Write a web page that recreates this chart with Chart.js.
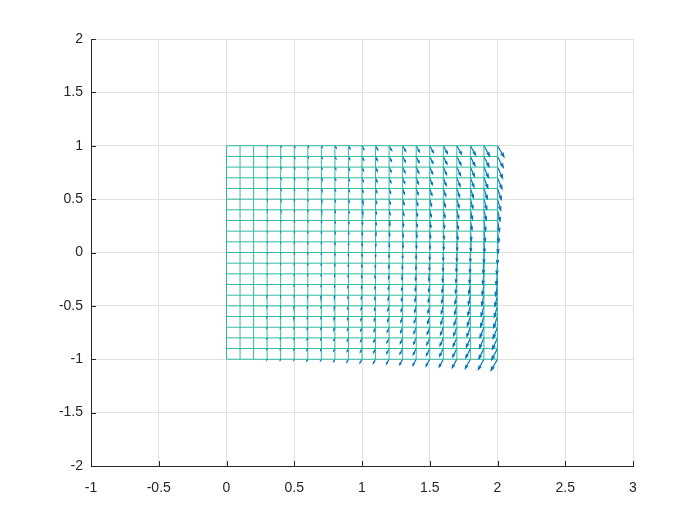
<!DOCTYPE html>
<html>
<head>
<meta charset="utf-8">
<script src="https://cdn.jsdelivr.net/npm/chart.js@4/dist/chart.umd.min.js"></script>
<style>
  html, body { margin: 0; padding: 0; background: #fff; }
  #wrap { width: 700px; height: 525px; }
</style>
</head>
<body>
<div id="wrap"><canvas id="chart_0"></canvas></div>
<script>
// mesh node positions
var meshX = [0, 0.1, 0.2, 0.3, 0.4, 0.5, 0.6, 0.7, 0.8, 0.9, 1, 1.1, 1.2, 1.3, 1.4, 1.5, 1.6, 1.7, 1.8, 1.9, 2];
var meshY = [-1, -0.9, -0.8, -0.7, -0.6, -0.5, -0.4, -0.3, -0.2, -0.1, 0, 0.1, 0.2, 0.3, 0.4, 0.5, 0.6, 0.7, 0.8, 0.9, 1];
// quiver: downward component per column, sideways component per column (at y = 1, sign follows y)
var vDown = [0, 0, 0, 0.002, 0.004, 0.008, 0.011, 0.015, 0.021, 0.026, 0.033, 0.037, 0.043, 0.05, 0.056, 0.063, 0.07, 0.078, 0.085, 0.094, 0.103];
var uTop = [0, 0, 0, 0.001, 0.002, 0.003, 0.005, 0.006, 0.009, 0.011, 0.014, 0.016, 0.019, 0.022, 0.024, 0.027, 0.03, 0.034, 0.037, 0.041, 0.047];
var xTicks = [-1, -0.5, 0, 0.5, 1, 1.5, 2, 2.5, 3];
var yTicks = [-2, -1.5, -1, -0.5, 0, 0.5, 1, 1.5, 2];

var vLines = [], hLines = [], shafts = [];
meshX.forEach(function (x) {
  vLines.push({x: x, y: meshY[0]}, {x: x, y: meshY[meshY.length - 1]}, {x: x, y: null});
});
meshY.forEach(function (y) {
  hLines.push({x: meshX[0], y: y}, {x: meshX[meshX.length - 1], y: y}, {x: meshX[0], y: null});
});
var arrows = [];
meshX.forEach(function (x, i) {
  meshY.forEach(function (y) {
    var u = uTop[i] * y, v = -vDown[i];
    if (u === 0 && v === 0) return;
    arrows.push([x, y, u, v]);
    shafts.push({x: x, y: y}, {x: x + u, y: y + v}, {x: x, y: null});
  });
});

var quiverHeads = {
  id: "quiverHeads",
  afterDatasetsDraw: function (chart) {
    var sx = chart.scales.x, sy = chart.scales.y, ctx = chart.ctx;
    ctx.save();
    ctx.strokeStyle = "#0072BD";
    ctx.lineWidth = 1.2;
    arrows.forEach(function (a) {
      var x0 = sx.getPixelForValue(a[0]), y0 = sy.getPixelForValue(a[1]);
      var x1 = sx.getPixelForValue(a[0] + a[2]), y1 = sy.getPixelForValue(a[1] + a[3]);
      var du = x1 - x0, dv = y1 - y0;
      var al = 0.33, be = 0.33;
      ctx.beginPath();
      ctx.moveTo(x1 - al * (du + be * dv), y1 - al * (dv - be * du));
      ctx.lineTo(x1, y1);
      ctx.lineTo(x1 - al * (du - be * dv), y1 - al * (dv + be * du));
      ctx.stroke();
    });
    // inward tick marks
    ctx.strokeStyle = "#262626";
    ctx.lineWidth = 1;
    var a = chart.chartArea;
    xTicks.forEach(function (t) {
      var p = Math.round(sx.getPixelForValue(t)) + 0.5;
      ctx.beginPath(); ctx.moveTo(p, a.bottom); ctx.lineTo(p, a.bottom - 5); ctx.stroke();
    });
    yTicks.forEach(function (t) {
      var p = Math.round(sy.getPixelForValue(t)) + 0.5;
      ctx.beginPath(); ctx.moveTo(a.left, p); ctx.lineTo(a.left + 5, p); ctx.stroke();
    });
    ctx.restore();
  }
};

function fmt(v) { return Math.abs(v) < 1e-9 ? "0" : String(Math.round(v * 10) / 10); }

new Chart("chart_0", {
  type: "line",
  data: {
    datasets: [
      { data: vLines, borderColor: "#33B9A2", borderWidth: 1, pointRadius: 0, spanGaps: false },
      { data: hLines, borderColor: "#33B9A2", borderWidth: 1, pointRadius: 0, spanGaps: false },
      { data: shafts, borderColor: "#0072BD", borderWidth: 1.2, pointRadius: 0, spanGaps: false }
    ]
  },
  options: {
    animation: false,
    responsive: true,
    maintainAspectRatio: false,
    layout: { padding: { left: 0, right: 67, top: 39, bottom: 0 } },
    plugins: { legend: { display: false }, tooltip: { enabled: false } },
    elements: { line: { tension: 0 } },
    scales: {
      x: {
        type: "linear", min: -1, max: 3,
        afterBuildTicks: function (s) { s.ticks = xTicks.map(function (v) { return {value: v}; }); },
        afterFit: function (s) { s.height = 59; },
        grid: { color: "#e1e1e1", drawTicks: false },
        border: { color: "#262626", width: 1 },
        ticks: { padding: 14, color: "#262626", font: { family: "Liberation Sans, Arial", size: 14 }, callback: fmt, maxRotation: 0 }
      },
      y: {
        type: "linear", min: -2, max: 2,
        afterBuildTicks: function (s) { s.ticks = yTicks.map(function (v) { return {value: v}; }); },
        afterFit: function (s) { s.width = 91; },
        grid: { color: "#e1e1e1", drawTicks: false },
        border: { color: "#262626", width: 1 },
        ticks: { padding: 8, color: "#262626", font: { family: "Liberation Sans, Arial", size: 14 }, callback: fmt }
      }
    }
  },
  plugins: [quiverHeads]
});
</script>
</body>
</html>
